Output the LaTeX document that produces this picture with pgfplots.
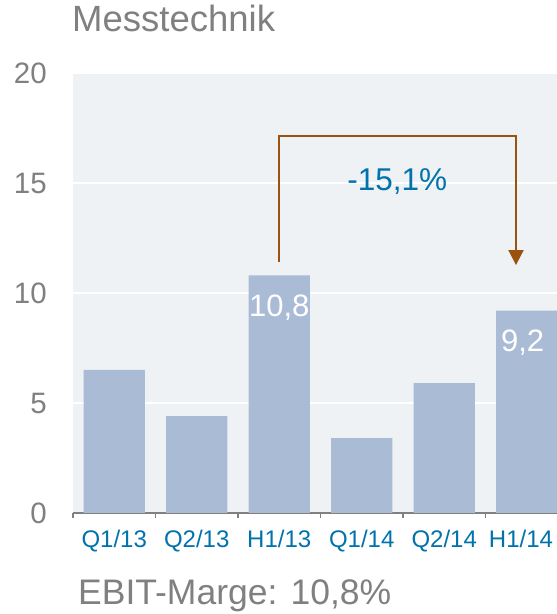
\documentclass[border=0pt]{standalone}
\usepackage{pgfplots}
\pgfplotsset{compat=1.18}
\usepackage{fontspec}
\setmainfont{Liberation Sans}
\usetikzlibrary{arrows.meta}
\definecolor{textgray}{RGB}{128,128,128}
\definecolor{lblue}{RGB}{0,114,172}
\definecolor{barcol}{RGB}{170,187,214}
\definecolor{bgcol}{RGB}{238,242,245}
\definecolor{arrowcol}{RGB}{155,82,16}
\begin{document}
\begin{tikzpicture}
\useasboundingbox (0,0) rectangle (557bp,614bp);
\node[anchor=base west, inner sep=0pt, text=textgray, font=\fontsize{36.5bp}{40bp}\selectfont] at (72bp,582bp) {Messtechnik};
\node[anchor=base west, inner sep=0pt, text=textgray, font=\fontsize{35.5bp}{40bp}\selectfont] at (78bp,10bp) {EBIT-Marge: 10,8\%};
\begin{axis}[
  at={(73bp,101bp)}, anchor=south west,
  scale only axis, width=484bp, height=440bp,
  xmin=-0.5, xmax=5.367, ymin=0, ymax=20,
  axis background/.style={fill=bgcol},
  axis x line*=bottom, axis y line*=left,
  x axis line style={-, draw=textgray, line width=1.2bp},
  y axis line style={draw=none},
  ytick={0,5,10,15,20},
  ymajorgrids, grid style={white, line width=1.2bp},
  ytick style={draw=none},
  /pgf/number format/assume math mode=true,
  yticklabel style={anchor=east, inner sep=0pt, xshift=-26bp, text=textgray, font=\fontsize{29.5bp}{32bp}\selectfont},
  xtick={0,1,2,3,4,4.93},
  xticklabels={Q1/13,Q2/13,H1/13,Q1/14,Q2/14,H1/14},
  xtick style={draw=none},
  xticklabel style={anchor=base, inner sep=0pt, yshift=-30bp, text=lblue, font=\fontsize{24bp}{26bp}\selectfont},
  extra x ticks={-0.5,0.5,1.5,2.5,3.5,4.5},
  extra x tick labels={},
  extra x tick style={tick align=outside, major tick length=5bp, xtick style={draw=textgray, line width=1.2bp}, grid=none},
  ybar, bar width=0.74, bar shift=0pt,
]
\addplot[fill=barcol, draw=none] coordinates {(0,6.5) (1,4.4) (2,10.8) (3,3.4) (4,5.9) (5,9.2)};
\node[text=white, font=\fontsize{31bp}{34bp}\selectfont] at (axis cs:2,9.32) {10,8};
\node[text=white, font=\fontsize{31bp}{34bp}\selectfont] at (axis cs:4.95,7.73) {9,2};
\node[text=lblue, font=\fontsize{31.5bp}{34bp}\selectfont] at (axis cs:3.43,15.05) {-15,1\%};
\draw[arrowcol, line width=2bp, -{Triangle[width=15bp,length=15bp]}] (axis cs:2,11.4) -- (axis cs:2,17.14) -- (axis cs:4.87,17.14) -- (axis cs:4.87,11.27);
\end{axis}
\end{tikzpicture}
\end{document}
